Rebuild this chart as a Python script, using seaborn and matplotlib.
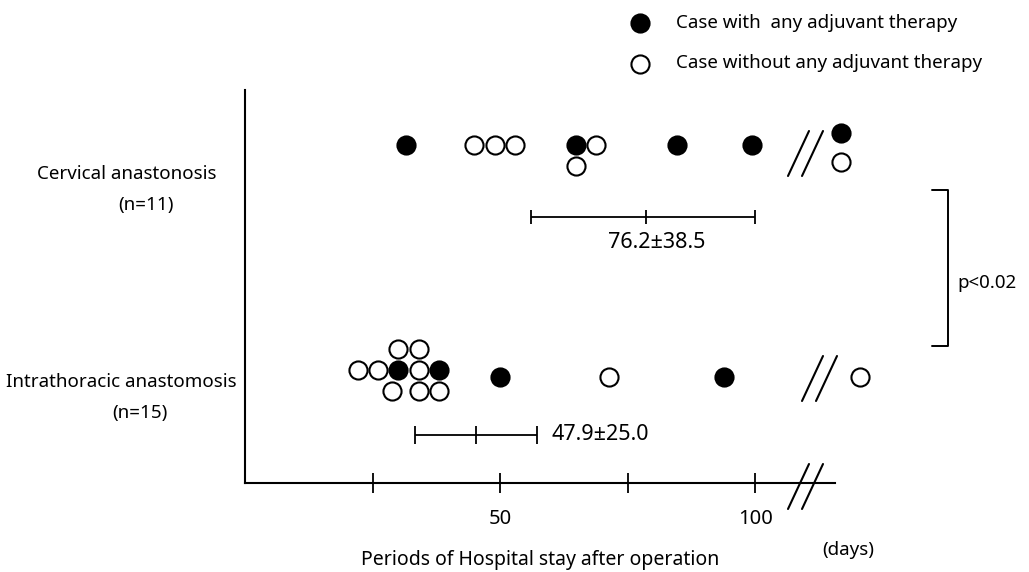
import pandas as pd
import seaborn as sns
import matplotlib.pyplot as plt

# hospital stay (days) per case; the last points sit past the axis break
cerv_days = [31.5, 44.9, 49.0, 52.9, 64.9, 64.9, 68.8, 84.6, 99.3, 116.8, 116.8]
cerv_adjuvant = [1, 0, 0, 0, 1, 0, 0, 1, 1, 1, 0]
cerv_stack = [0, 0, 0, 0, 0, 1, 0, 0, 0, -0.55, 0.8]

intra_days = [22.2, 26.0, 30.0, 34.1, 38.0, 30.0, 34.1, 28.8, 34.1, 38.0,
              50.0, 71.3, 93.9, 120.5]
intra_adjuvant = [0, 0, 1, 0, 1, 0, 0, 0, 0, 0, 1, 0, 1, 0]
intra_stack = [-0.33] * 5 + [-1.33] * 2 + [0.67] * 3 + [0] * 4

groups = ["Cervical anastonosis", "Intrathoracic anastomosis"]
group_n = ["(n=11)", "(n=15)"]

# mean bars as drawn: left end, middle tick, right end
bar_lo = [56.0, 33.3]
bar_mid = [78.6, 45.3]
bar_hi = [99.9, 57.2]
bar_text = ["76.2\u00b138.5", "47.9\u00b125.0"]

xticks = [25, 50, 75, 100]
xtick_labels = ["", "50", "", "100"]
legend_labels = ["Case with  any adjuvant therapy", "Case without any adjuvant therapy"]
p_text = "p<0.02"

sns.set_style("white")
plt.rcParams['font.family'] = ['Noto Sans', 'DejaVu Sans']
plt.rcParams['font.size'] = 13.5
plt.rcParams['text.color'] = 'black'

W, H = 1029, 572
X0, PXD = 245, 5.104      # pixel of day 0, pixels per day
Y0, PXR = 145, 232        # pixel of first row, pixels per row
STEP = 21 / PXR           # one marker stacked above/below


def dx(px):
    return (px - X0) / PXD


def dy(py):
    return (py - Y0) / PXR


df = pd.concat([
    pd.DataFrame({"days": cerv_days, "adj": cerv_adjuvant, "row": 0, "stack": cerv_stack}),
    pd.DataFrame({"days": intra_days, "adj": intra_adjuvant, "row": 1, "stack": intra_stack}),
], ignore_index=True)
df["y"] = df["row"] + df["stack"] * STEP

fig = plt.figure(figsize=(W / 100, H / 100), dpi=100)
ax = fig.add_axes([X0 / W, (H - 483) / H, (835 - X0) / W, (483 - 90) / H])

sns.scatterplot(data=df[df.adj == 0], x="days", y="y", s=170, color="white",
                edgecolor="black", linewidth=1.5, clip_on=False, zorder=3,
                label=legend_labels[1], ax=ax)
sns.scatterplot(data=df[df.adj == 1], x="days", y="y", s=170, color="black",
                edgecolor="black", linewidth=1.5, clip_on=False, zorder=4,
                label=legend_labels[0], ax=ax)

ax.set_xlim(0, dx(835))
ax.set_ylim(dy(483), dy(90))
ax.set_xticks(xticks)
ax.set_xticklabels(xtick_labels)
ax.set_yticks([])
ax.tick_params(axis='x', bottom=True, direction='inout', length=14, width=1.3,
               pad=12, colors='black', labelsize=14.5)
ax.set_xlabel("Periods of Hospital stay after operation", labelpad=15, fontsize=14,
              color='black')
ax.set_ylabel("")
sns.despine(ax=ax)
for s in ["left", "bottom"]:
    ax.spines[s].set_linewidth(1.5)
    ax.spines[s].set_color("black")

# mean +- sd bars
bar_off = [0.31, 0.25]
caps = [9.5, 13.5]
for i in range(2):
    yb = i + bar_off[i]
    ax.errorbar(bar_mid[i], yb, xerr=[[bar_mid[i] - bar_lo[i]], [bar_hi[i] - bar_mid[i]]],
                fmt='none', ecolor='black', elinewidth=1.3, capsize=caps[i] / 2,
                capthick=1.3)
    ax.plot(bar_mid[i], yb, marker='|', ms=caps[i], mew=1.3, color='black')
ax.text(dx(657), dy(243), bar_text[0], ha='center', va='center', fontsize=15.5)
ax.text(dx(552), dy(435), bar_text[1], ha='left', va='center', fontsize=15.5)

# group labels on the left
ax.text(dx(127), dy(174), groups[0], ha='center', va='center', clip_on=False)
ax.text(dx(146), dy(205), group_n[0], ha='center', va='center', clip_on=False)
ax.text(dx(121), dy(382), groups[1], ha='center', va='center', clip_on=False)
ax.text(dx(140), dy(413), group_n[1], ha='center', va='center', clip_on=False)
ax.text(dx(848), dy(550), "(days)", ha='center', va='center', clip_on=False)

# significance bracket
ax.plot([dx(932), dx(948), dx(948), dx(932)], [dy(190), dy(190), dy(346), dy(346)],
        color='black', lw=1.4, clip_on=False)
ax.text(dx(957), dy(283), p_text, ha='left', va='center', clip_on=False)

# "//" break marks
for bx, by in [(788, 176), (802, 401), (788, 509)]:
    for off in (0, 14):
        ax.plot([dx(bx + off), dx(bx + off + 21)], [dy(by), dy(by - 45)],
                color='black', lw=1.5, clip_on=False)

handles, labels = ax.get_legend_handles_labels()
ax.legend(handles[::-1], labels[::-1], loc='upper left',
          bbox_to_anchor=(631 / W, 1 - 14 / H), bbox_transform=fig.transFigure,
          frameon=False, borderpad=0, handlelength=1.0, handletextpad=1.4,
          labelspacing=1.2, fontsize=13.5, borderaxespad=0)

fig.savefig("out.png", dpi=100)
